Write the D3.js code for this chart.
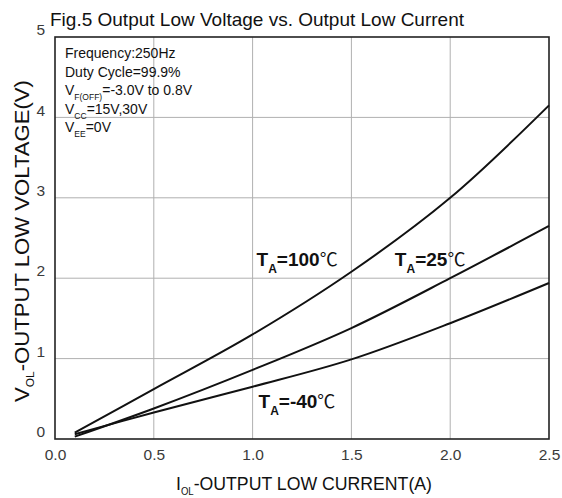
<!DOCTYPE html>
<html>
<head>
<meta charset="utf-8">
<script src="https://cdn.jsdelivr.net/npm/d3@7"></script>
<style>
  body { margin: 0; background: #fff; }
  svg { display: block; font-family: "Liberation Sans", Arial, sans-serif; }
</style>
</head>
<body>
<svg></svg>
<script>
// data
let currents = [0.1, 0.5, 1.0, 1.5, 2.0, 2.5]
let v100 = [0.08, 0.62, 1.30, 2.08, 3.00, 4.15]
let v25 = [0.03, 0.38, 0.86, 1.38, 2.00, 2.65]
let vm40 = [0.06, 0.33, 0.65, 0.99, 1.44, 1.94]
let xTicks = [0, 0.5, 1.0, 1.5, 2.0, 2.5]
let yTicks = [0, 1, 2, 3, 4, 5]
let notes = ['Frequency:250Hz', 'Duty Cycle=99.9%', 'V|F(OFF)|=-3.0V to 0.8V', 'V|CC|=15V,30V', 'V|EE|=0V']

let width = 562
let height = 498
let plotLeft = 55, plotRight = 549, plotTop = 37, plotBottom = 439

let svg = d3.select('svg').attr('width', width).attr('height', height)

let xScale = d3.scaleLinear().domain([0, 2.5]).range([plotLeft, plotRight])
let yScale = d3.scaleLinear().domain([0, 5]).range([plotBottom, plotTop])

// grid
svg.append('g')
  .selectAll('line')
  .data(xTicks.slice(1, -1))
  .enter()
  .append('line')
  .attr('x1', d => xScale(d)).attr('x2', d => xScale(d))
  .attr('y1', plotTop).attr('y2', plotBottom)
  .attr('stroke', '#b0b0b0').attr('stroke-width', 1)

svg.append('g')
  .selectAll('line')
  .data(yTicks.slice(1, -1))
  .enter()
  .append('line')
  .attr('x1', plotLeft).attr('x2', plotRight)
  .attr('y1', d => yScale(d)).attr('y2', d => yScale(d))
  .attr('stroke', '#b0b0b0').attr('stroke-width', 1)

// axes (labels only, frame drawn separately)
let xAxis = d3.axisBottom(xScale).tickValues(xTicks).tickFormat(d3.format('.1f')).tickSize(0).tickPadding(10)
let yAxis = d3.axisLeft(yScale).tickValues(yTicks).tickFormat(d3.format('d')).tickSize(0).tickPadding(10)

let gx = svg.append('g').attr('transform', 'translate(0,' + plotBottom + ')').call(xAxis)
let gy = svg.append('g').attr('transform', 'translate(' + plotLeft + ',0)').call(yAxis)
svg.selectAll('.domain').remove()
svg.selectAll('.tick text').attr('font-size', 15.5).attr('fill', '#3a3a3a').attr('font-family', '"Liberation Sans", Arial, sans-serif')
gy.selectAll('.tick text').attr('dy', '-0.15em')

svg.append('rect')
  .attr('x', plotLeft).attr('y', plotTop)
  .attr('width', plotRight - plotLeft).attr('height', plotBottom - plotTop)
  .attr('fill', 'none').attr('stroke', '#222').attr('stroke-width', 1.6)

// curves
let line = d3.line()
  .x((d, i) => xScale(currents[i]))
  .y(d => yScale(d))
  .curve(d3.curveCatmullRom)

;[v100, v25, vm40].forEach(series => {
  svg.append('path')
    .datum(series)
    .attr('d', line)
    .attr('fill', 'none')
    .attr('stroke', '#111')
    .attr('stroke-width', 2)
})

// title
svg.append('text')
  .attr('x', 50).attr('y', 26)
  .attr('font-size', 19)
  .attr('fill', '#111')
  .text('Fig.5 Output Low Voltage vs. Output Low Current')

// conditions box text
notes.forEach((n, i) => {
  let parts = n.split('|')
  let t = svg.append('text')
    .attr('x', 65).attr('y', 58 + i * 18.5)
    .attr('font-size', 14)
    .attr('fill', '#111')
  if (parts.length == 1) {
    t.text(n)
  } else {
    t.append('tspan').text(parts[0])
    t.append('tspan').attr('font-size', 8.5).attr('dy', 5).text(parts[1])
    t.append('tspan').attr('dy', -5).text(parts[2])
  }
})

// temperature labels
let tempLabels = [
  { x: 1.02, y: 2.15, t: '100' },
  { x: 1.72, y: 2.15, t: '25' },
  { x: 1.03, y: 0.385, t: '-40' }
]
tempLabels.forEach(l => {
  let t = svg.append('text')
    .attr('x', xScale(l.x)).attr('y', yScale(l.y))
    .attr('font-size', 19).attr('font-weight', 'bold').attr('fill', '#111')
  t.append('tspan').text('T')
  t.append('tspan').attr('font-size', 12).attr('dy', 7).text('A')
  t.append('tspan').attr('dy', -7).text('=' + l.t)
  t.append('tspan').attr('font-weight', 'normal').attr('font-family', '"Noto Sans CJK SC", sans-serif').attr('font-size', 18).text('℃')
})

// axis titles
let xt = svg.append('text')
  .attr('x', 304).attr('y', 490)
  .attr('text-anchor', 'middle')
  .attr('font-size', 18.5).attr('fill', '#111')
  .attr('textLength', 256).attr('lengthAdjust', 'spacingAndGlyphs')
xt.append('tspan').text('I')
xt.append('tspan').attr('font-size', 10).attr('dy', 5).text('OL')
xt.append('tspan').attr('dy', -5).text('-OUTPUT LOW CURRENT(A)')

let yt = svg.append('text')
  .attr('transform', 'translate(29,' + 241 + ') rotate(-90)')
  .attr('text-anchor', 'middle')
  .attr('font-size', 19.5).attr('fill', '#111')
  .attr('textLength', 322).attr('lengthAdjust', 'spacingAndGlyphs')
yt.append('tspan').text('V')
yt.append('tspan').attr('font-size', 10.5).attr('dy', 5).text('OL')
yt.append('tspan').attr('dy', -5).text('-OUTPUT LOW VOLTAGE(V)')
</script>
</body>
</html>
